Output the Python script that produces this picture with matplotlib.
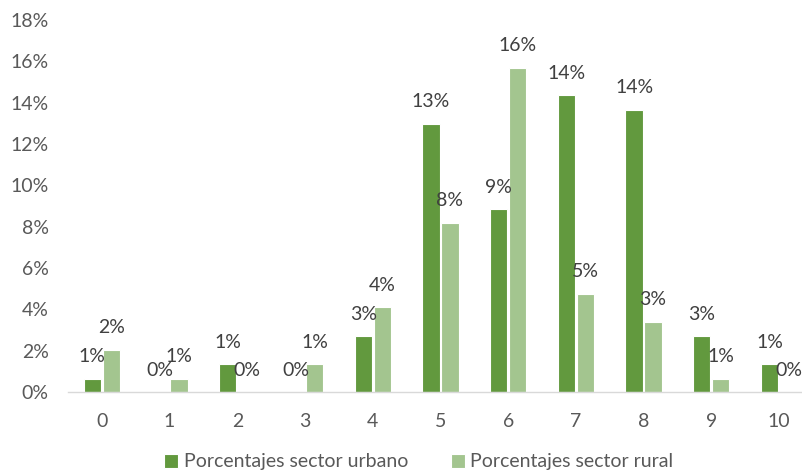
import numpy as np
import matplotlib.pyplot as plt
from matplotlib.ticker import PercentFormatter

plt.rcParams['font.family'] = ['Lato', 'DejaVu Sans']

categorias = ['0', '1', '2', '3', '4', '5', '6', '7', '8', '9', '10']
urbano = [0.0064, 0.0, 0.0135, 0.0, 0.0269, 0.1297, 0.0885, 0.1435, 0.1366, 0.0269, 0.0135]
rural = [0.0204, 0.0064, 0.0, 0.0135, 0.0409, 0.0820, 0.1570, 0.0476, 0.0340, 0.0064, 0.0]
series = ['Porcentajes sector urbano', 'Porcentajes sector rural']

c_urb = '#62993E'
c_rur = '#A3C58F'

fig = plt.figure(figsize=(8.02, 4.75), dpi=100)
ax = fig.add_axes([68/802, 1-392/475, 1-68/802, (392-20)/475])

x = np.arange(len(categorias))
w = 0.255
off = 0.14
b1 = ax.bar(x - off, urbano, w, color=c_urb, edgecolor='white', linewidth=0.8, label=series[0])
b2 = ax.bar(x + off, rural, w, color=c_rur, edgecolor='white', linewidth=0.8, label=series[1])

# etiquetas de datos
for bars, vals in ((b1, urbano), (b2, rural)):
    for r, v in zip(bars, vals):
        ax.annotate(f'{v:.0%}', (r.get_x() + r.get_width()/2, v),
                    xytext=(0, 22), textcoords='offset pixels',
                    ha='center', va='center', fontsize=14, color='#404040')

ax.set_xlim(-0.5, 10.34)
ax.set_ylim(0, 0.18)
ax.set_yticks(np.arange(0, 0.181, 0.02))
ax.yaxis.set_major_formatter(PercentFormatter(1.0, decimals=0))
ax.set_xticks(x)
ax.set_xticklabels(categorias)
ax.tick_params(axis='both', length=0, labelsize=14, colors='#595959')
ax.tick_params(axis='y', pad=14)
ax.tick_params(axis='x', pad=15)
for s in ['top', 'right', 'left']:
    ax.spines[s].set_visible(False)
ax.spines['bottom'].set_color('#D9D9D9')
ax.spines['bottom'].set_linewidth(1)

fig.legend(handles=[b1, b2], labels=series, loc='center', bbox_to_anchor=(419/802, 1-462/475),
           ncol=2, frameon=False, fontsize=14, handlelength=0.7, handleheight=0.7,
           handletextpad=0.3, columnspacing=2.2, labelcolor='#595959')

fig.savefig('out.png', dpi=100)
